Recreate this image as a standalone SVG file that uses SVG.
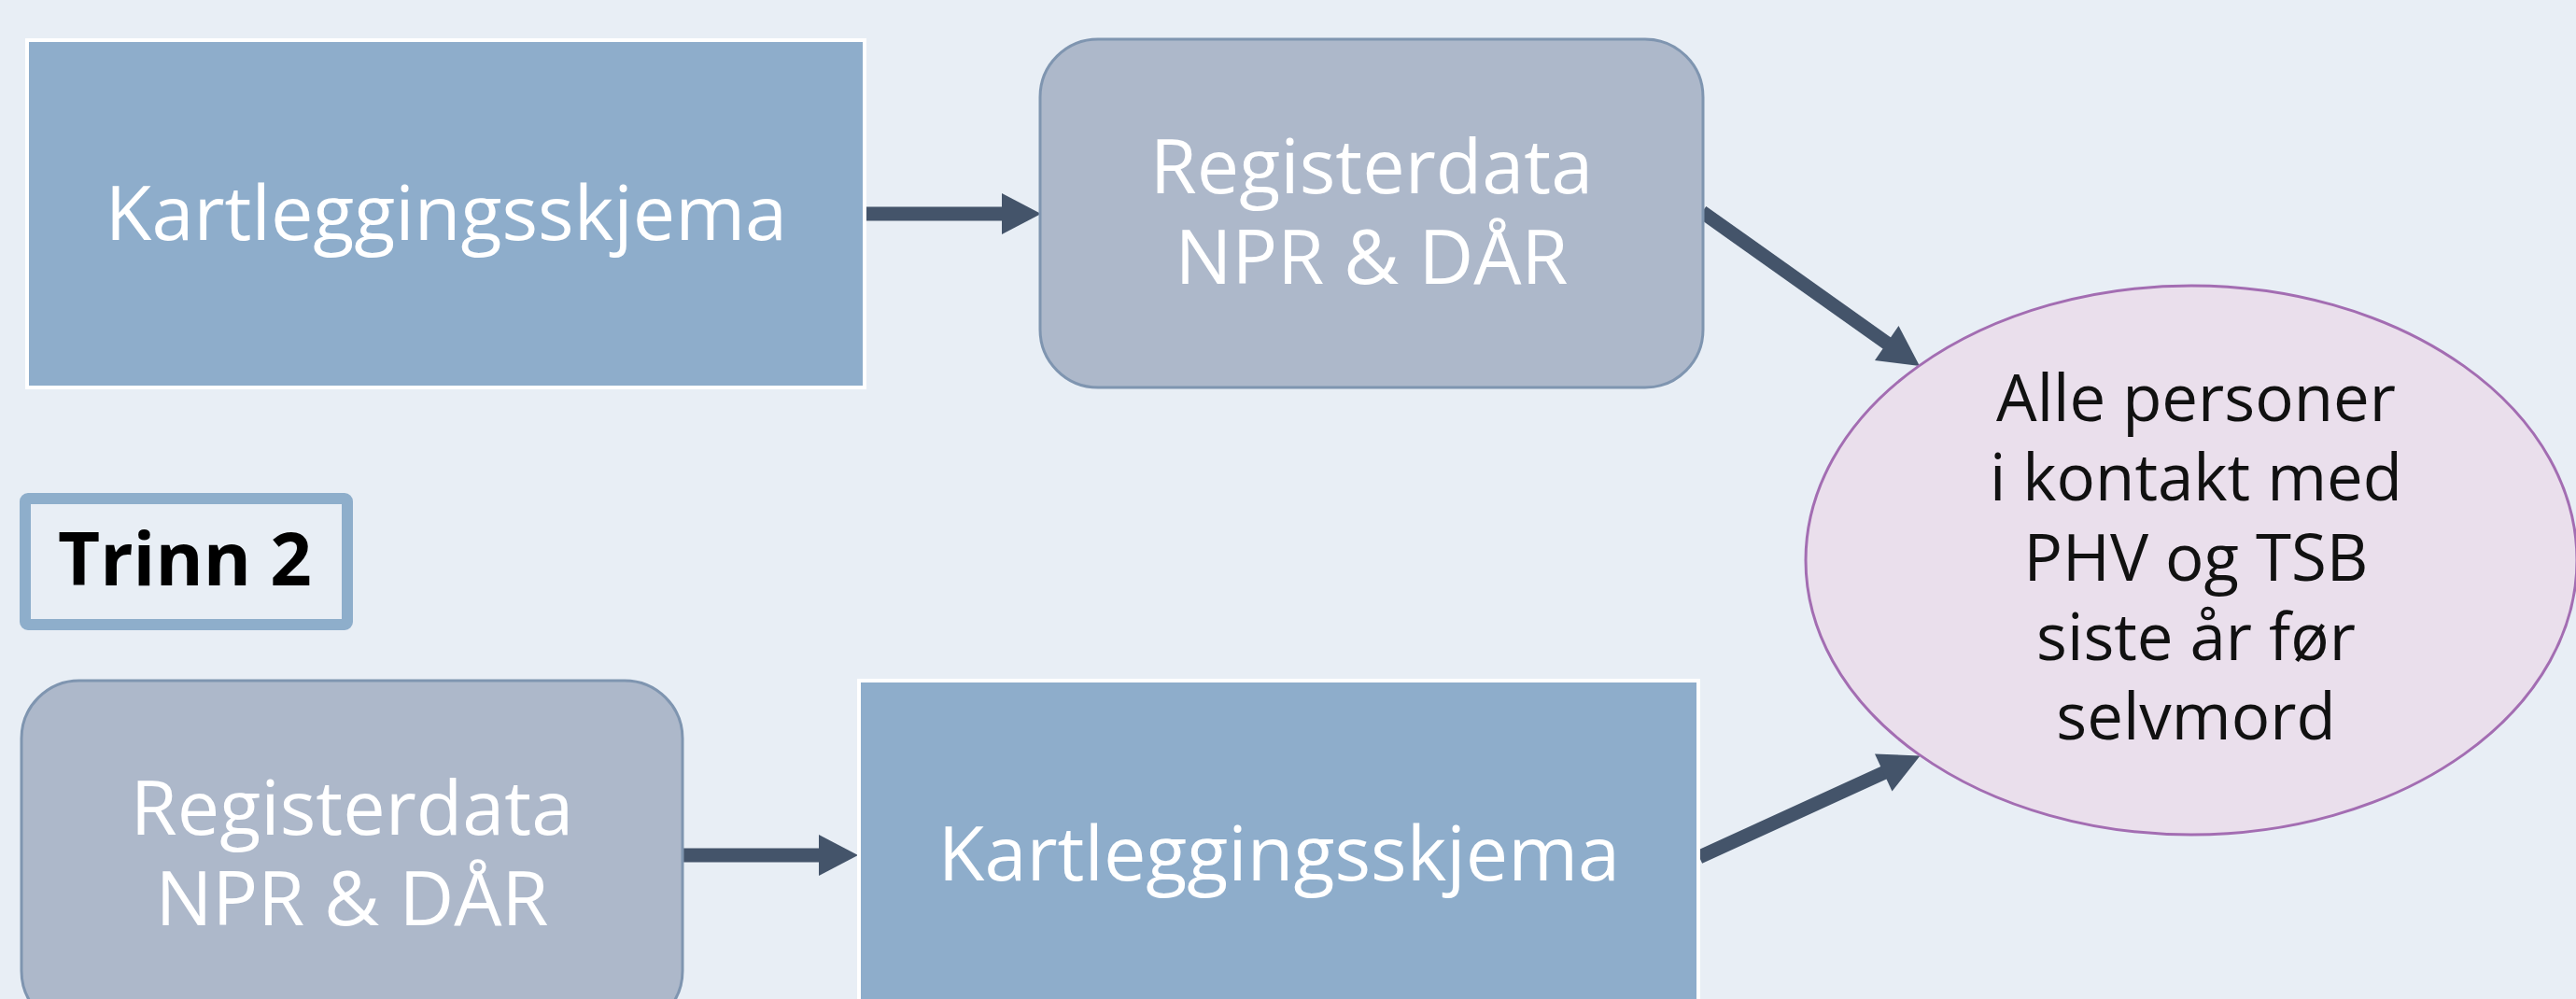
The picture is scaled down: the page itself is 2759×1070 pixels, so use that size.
<svg xmlns="http://www.w3.org/2000/svg" width="2759" height="1070" viewBox="0 0 2759 1070">
<style>
.bg{fill:#e8eef5}
.kart{fill:#8eadcb;stroke:#ffffff;stroke-width:4}
.reg{fill:#adb8ca;stroke:#7f95b0;stroke-width:3}
.wt{font-family:"Open Sans","Liberation Sans",sans-serif;font-weight:400;font-size:81px;fill:#ffffff;text-anchor:middle}
.ell{fill:#eadfec;stroke:#a36db2;stroke-width:3}
.et{font-family:"Open Sans","Liberation Sans",sans-serif;font-size:69px;fill:#111111;text-anchor:middle}
.lbl{fill:#e8eef5;stroke:#8eaecb;stroke-width:12}
.lt{font-family:"Open Sans","Liberation Sans",sans-serif;font-weight:700;font-size:78px;fill:#000000}
.conn{stroke:#44546a;stroke-width:15;fill:none}
.head{fill:#44546a}
</style>
<rect class="bg" x="0" y="0" width="2759" height="1070"/>
<g id="connectors">
<line class="conn" x1="927" y1="229" x2="1075" y2="229"/>
<polygon class="head" points="1073,207 1115,229 1073,251"/>
<line class="conn" x1="1823" y1="227" x2="2023" y2="369"/>
<polygon class="head" points="2033.5,349 2056,392 2008,386"/>
<line class="conn" x1="731" y1="916" x2="879" y2="916"/>
<polygon class="head" points="877,894 919,916 877,938"/>
<line class="conn" x1="1820" y1="918" x2="2019" y2="827"/>
<polygon class="head" points="2008,807.5 2056.5,809.5 2026.5,847.5"/>
</g>
<g id="kart-top">
<rect class="kart" x="29" y="43" width="897" height="372"/>
<text class="wt" x="478" y="257">Kartleggingsskjema</text>
</g>
<g id="reg-top">
<rect class="reg" x="1114" y="42" width="710" height="373" rx="62" ry="62"/>
<text class="wt" x="1469" y="207">Registerdata<tspan x="1469" dy="97">NPR &amp; DÅR</tspan></text>
</g>
<g id="result">
<ellipse class="ell" cx="2347" cy="600" rx="413" ry="294"/>
<text class="et" x="2352" y="451">Alle personer<tspan x="2352" dy="85">i kontakt med</tspan><tspan x="2352" dy="86">PHV og TSB</tspan><tspan x="2352" dy="85">siste år før</tspan><tspan x="2352" dy="85">selvmord</tspan></text>
</g>
<g id="trinn2">
<rect class="lbl" x="27" y="534" width="345" height="135" rx="3"/>
<text class="lt" x="62" y="627">Trinn 2</text>
</g>
<g id="reg-bottom">
<rect class="reg" x="23" y="729" width="708" height="373" rx="62" ry="62"/>
<text class="wt" x="377" y="894">Registerdata<tspan x="377" dy="97">NPR &amp; DÅR</tspan></text>
</g>
<g id="kart-bottom">
<rect class="kart" x="920" y="729" width="899" height="372"/>
<text class="wt" x="1370" y="943">Kartleggingsskjema</text>
</g>
</svg>
